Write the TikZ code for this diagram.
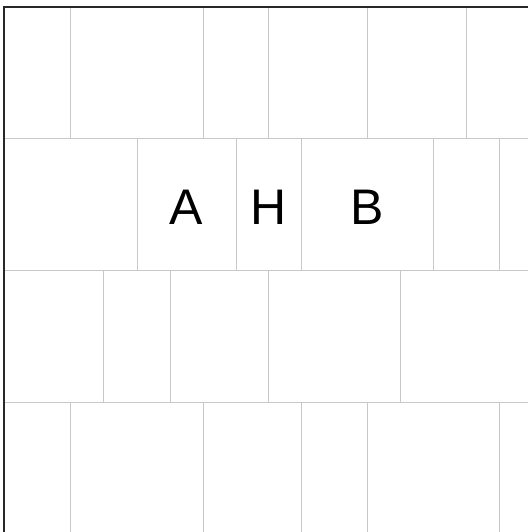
\documentclass[tikz,border=0pt]{standalone}
\usepackage{fontspec}
\setmainfont{Liberation Sans}
\begin{document}
\begin{tikzpicture}[x=1pt,y=-1pt,
  gridline/.style={draw={rgb,255:red,200;green,200;blue,200},line width=1pt},
  frame/.style={draw={rgb,255:red,40;green,40;blue,40},line width=2.2pt},
  letter/.style={font=\fontsize{50}{50}\selectfont,text=black,inner sep=0pt}]
\useasboundingbox[fill=white] (0,0) rectangle (528,532);
% horizontal row boundaries
\foreach \y in {138,270,402} \draw[gridline] (4,\y) -- (528,\y);
% row 1
\foreach \x in {70,203,268,367,466} \draw[gridline] (\x,7) -- (\x,138);
% row 2
\foreach \x in {137,236,301,433,499} \draw[gridline] (\x,138) -- (\x,270);
% row 3
\foreach \x in {103,170,268,400} \draw[gridline] (\x,270) -- (\x,402);
% row 4
\foreach \x in {70,203,301,367,499} \draw[gridline] (\x,402) -- (\x,532);
% frame
\draw[frame] (4,532) -- (4,7) -- (528,7);
% labels
\node[letter] (A) at (186.5,207) {A};
\node[letter] (H) at (268.5,207) {H};
\node[letter] (B) at (367,207) {B};
\end{tikzpicture}
\end{document}
